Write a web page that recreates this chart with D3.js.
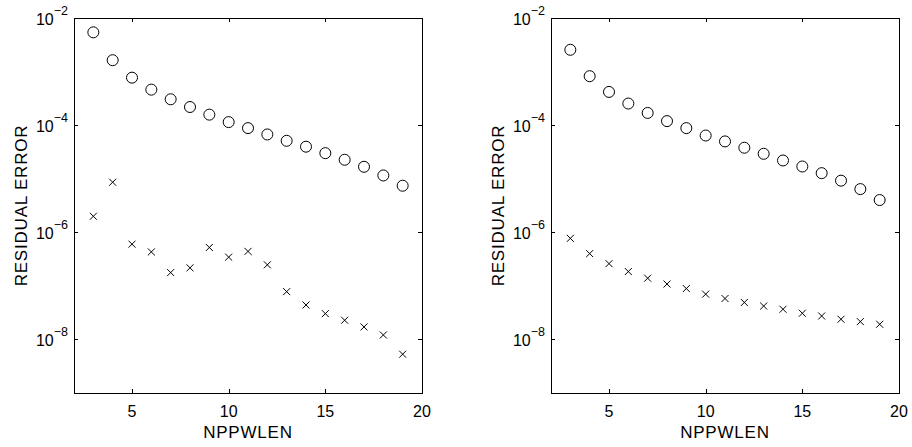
<!DOCTYPE html>
<html lang="en">
<head>
<meta charset="UTF-8">
<title>Residual error vs NPPWLEN</title>
<script src="https://d3js.org/d3.v7.min.js"></script>
<style>
    body { margin: 0; background: #fff; }
    svg { display: block; font-family: Arial, "Liberation Sans", Helvetica, sans-serif; }
</style>
</head>
<body>
<svg width="912" height="447"></svg>

<script>
    // values
    const npp = [3, 4, 5, 6, 7, 8, 9, 10, 11, 12, 13, 14, 15, 16, 17, 18, 19];

    const leftCircles = [5.4e-3, 1.63e-3, 7.7e-4, 4.6e-4, 3.04e-4, 2.18e-4, 1.57e-4, 1.14e-4, 8.8e-5,
        6.7e-5, 5.1e-5, 3.96e-5, 3.0e-5, 2.26e-5, 1.67e-5, 1.15e-5, 7.4e-6];
    const leftCrosses = [1.99e-6, 8.6e-6, 6.0e-7, 4.3e-7, 1.77e-7, 2.17e-7, 5.2e-7, 3.44e-7, 4.4e-7,
        2.47e-7, 7.8e-8, 4.4e-8, 3.03e-8, 2.28e-8, 1.71e-8, 1.21e-8, 5.3e-9];

    const rightCircles = [2.55e-3, 8.2e-4, 4.17e-4, 2.53e-4, 1.69e-4, 1.19e-4, 8.8e-5, 6.4e-5, 4.97e-5,
        3.79e-5, 2.92e-5, 2.19e-5, 1.69e-5, 1.27e-5, 9.2e-6, 6.4e-6, 4.0e-6];
    const rightCrosses = [7.7e-7, 4.0e-7, 2.6e-7, 1.85e-7, 1.39e-7, 1.08e-7, 8.9e-8, 7.0e-8, 5.8e-8,
        4.9e-8, 4.2e-8, 3.66e-8, 3.08e-8, 2.74e-8, 2.38e-8, 2.15e-8, 1.92e-8];

    const xTicks = [5, 10, 15, 20];
    const yTicks = [1e-2, 1e-4, 1e-6, 1e-8];
    const yTickExp = ["\u22122", "\u22124", "\u22126", "\u22128"];

    const svg = d3.select("svg");
    const plotTop = 18, plotBottom = 393, tickLen = 4;

    function drawPanel(x0, x1, circles, crosses) {
        const x = d3.scaleLinear().domain([2, 20]).range([x0, x1]);
        const y = d3.scaleLog().domain([1e-9, 1e-2]).range([plotBottom, plotTop]);
        const g = svg.append("g");

        // box
        g.append("rect")
            .attr("x", x0 + 0.5).attr("y", plotTop + 0.5)
            .attr("width", x1 - x0).attr("height", plotBottom - plotTop)
            .attr("fill", "none").attr("stroke", "#000").attr("stroke-width", 1);

        // x ticks (inside, top and bottom)
        xTicks.forEach(function (t) {
            const px = Math.round(x(t)) + 0.5;
            g.append("line").attr("x1", px).attr("x2", px)
                .attr("y1", plotBottom).attr("y2", plotBottom - tickLen).attr("stroke", "#000");
            g.append("line").attr("x1", px).attr("x2", px)
                .attr("y1", plotTop).attr("y2", plotTop + tickLen).attr("stroke", "#000");
            g.append("text")
                .attr("x", x(t)).attr("y", plotBottom + 24)
                .attr("text-anchor", "middle")
                .style("font-size", "16px")
                .text(t);
        });

        // y ticks
        yTicks.forEach(function (t, i) {
            const py = Math.round(y(t)) + 0.5;
            g.append("line").attr("x1", x0).attr("x2", x0 + tickLen)
                .attr("y1", py).attr("y2", py).attr("stroke", "#000");
            g.append("line").attr("x1", x1).attr("x2", x1 - tickLen)
                .attr("y1", py).attr("y2", py).attr("stroke", "#000");
            const lab = g.append("text")
                .attr("x", x0 - 6).attr("y", y(t) + 7)
                .attr("text-anchor", "end")
                .style("font-size", "16px");
            lab.append("tspan").text("10");
            lab.append("tspan")
                .attr("dy", -10)
                .style("font-size", "12.5px")
                .text(yTickExp[i]);
        });

        // axis labels
        g.append("text")
            .attr("x", (x0 + x1) / 2).attr("y", plotBottom + 45)
            .attr("text-anchor", "middle")
            .style("font-size", "17px")
            .style("letter-spacing", "0.8px")
            .text("NPPWLEN");

        g.append("text")
            .attr("transform", "translate(" + (x0 - 47) + "," + ((plotTop + plotBottom) / 2) + ") rotate(-90)")
            .attr("text-anchor", "middle")
            .style("font-size", "17px")
            .style("letter-spacing", "0.8px")
            .text("RESIDUAL ERROR");

        // circles
        g.selectAll(".circ")
            .data(npp.map((n, i) => ({ n: n, v: circles[i] })))
            .enter().append("circle")
            .attr("class", "circ")
            .attr("cx", d => x(d.n))
            .attr("cy", d => y(d.v))
            .attr("r", 5.5)
            .attr("fill", "none")
            .attr("stroke", "#000")
            .attr("stroke-width", 1);

        // crosses
        const s = 3.5;
        g.selectAll(".cross")
            .data(npp.map((n, i) => ({ n: n, v: crosses[i] })))
            .enter().append("path")
            .attr("class", "cross")
            .attr("d", function (d) {
                const cx = x(d.n), cy = y(d.v);
                return "M" + (cx - s) + "," + (cy - s) + "L" + (cx + s) + "," + (cy + s) +
                    "M" + (cx - s) + "," + (cy + s) + "L" + (cx + s) + "," + (cy - s);
            })
            .attr("fill", "none")
            .attr("stroke", "#000")
            .attr("stroke-width", 1);
    }

    drawPanel(74, 422, leftCircles, leftCrosses);
    drawPanel(551, 899, rightCircles, rightCrosses);
</script>
</body>
</html>
